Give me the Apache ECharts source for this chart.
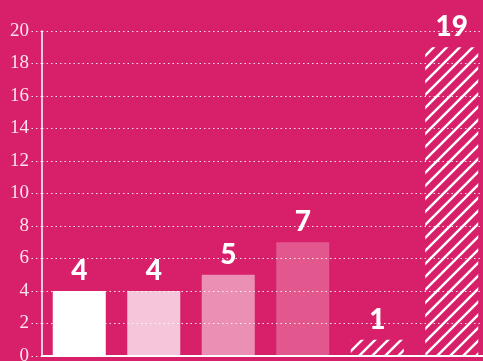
<!DOCTYPE html>
<html>
<head>
<meta charset="utf-8">
<script src="https://cdn.jsdelivr.net/npm/echarts@6/dist/echarts.min.js"></script>
<style>
  html, body { margin: 0; padding: 0; background: #d81f69; }
  #chart { width: 483px; height: 361px; }
</style>
</head>
<body>
<div id="chart"></div>
<script>
const categories = ['A', 'B', 'C', 'D', 'E', 'F'];
const values = [4, 4, 5, 7, 1, 19];
const yTicks = [0, 2, 4, 6, 8, 10, 12, 14, 16, 18, 20];

const BG = '#d81f69';

function stripePattern() {
  const s = 13;
  const c = document.createElement('canvas');
  c.width = s;
  c.height = s;
  const ctx = c.getContext('2d');
  ctx.strokeStyle = '#ffffff';
  ctx.lineWidth = 2.4;
  ctx.beginPath();
  ctx.moveTo(-2, 2); ctx.lineTo(2, -2);
  ctx.moveTo(0, s); ctx.lineTo(s, 0);
  ctx.moveTo(s - 2, s + 2); ctx.lineTo(s + 2, s - 2);
  ctx.stroke();
  return {image: c, repeat: 'repeat'};
}

const fills = [
  '#ffffff',
  'rgba(255,255,255,0.75)',
  'rgba(255,255,255,0.5)',
  'rgba(255,255,255,0.25)',
  stripePattern(),
  stripePattern()
];

const chart = echarts.init(document.getElementById('chart'));

chart.setOption({
  backgroundColor: BG,
  animation: false,
  grid: {left: 42, right: -6, top: 31, bottom: 5, outerBoundsMode: 'none', containLabel: false},
  xAxis: {
    type: 'category',
    data: categories,
    axisLine: {lineStyle: {color: '#ffffff', width: 2}},
    axisTick: {show: false},
    axisLabel: {show: false}
  },
  yAxis: {
    type: 'value',
    min: 0,
    max: 20,
    interval: 2,
    axisLine: {show: true, lineStyle: {color: '#ffffff', width: 1.5}},
    axisTick: {show: true, length: 11, lineStyle: {color: 'rgba(255,255,255,0.85)', type: [1.5, 3]}},
    axisLabel: {
      margin: 13,
      color: 'rgba(255,255,255,0.88)',
      fontFamily: 'Liberation Serif',
      fontSize: 19,
      formatter: v => yTicks.includes(v) ? String(v) : ''
    },
    splitLine: {lineStyle: {color: 'rgba(255,255,255,0.85)', type: [1.5, 3], width: 1.2}}
  },
  series: [{
    type: 'bar',
    barWidth: 53,
    data: values.map((v, i) => ({value: v, itemStyle: {color: fills[i]}})),
    label: {
      show: true,
      position: 'top',
      distance: 6,
      color: '#ffffff',
      fontFamily: 'Lato',
      fontWeight: 900,
      fontSize: 28
    }
  }]
});
</script>
</body>
</html>
